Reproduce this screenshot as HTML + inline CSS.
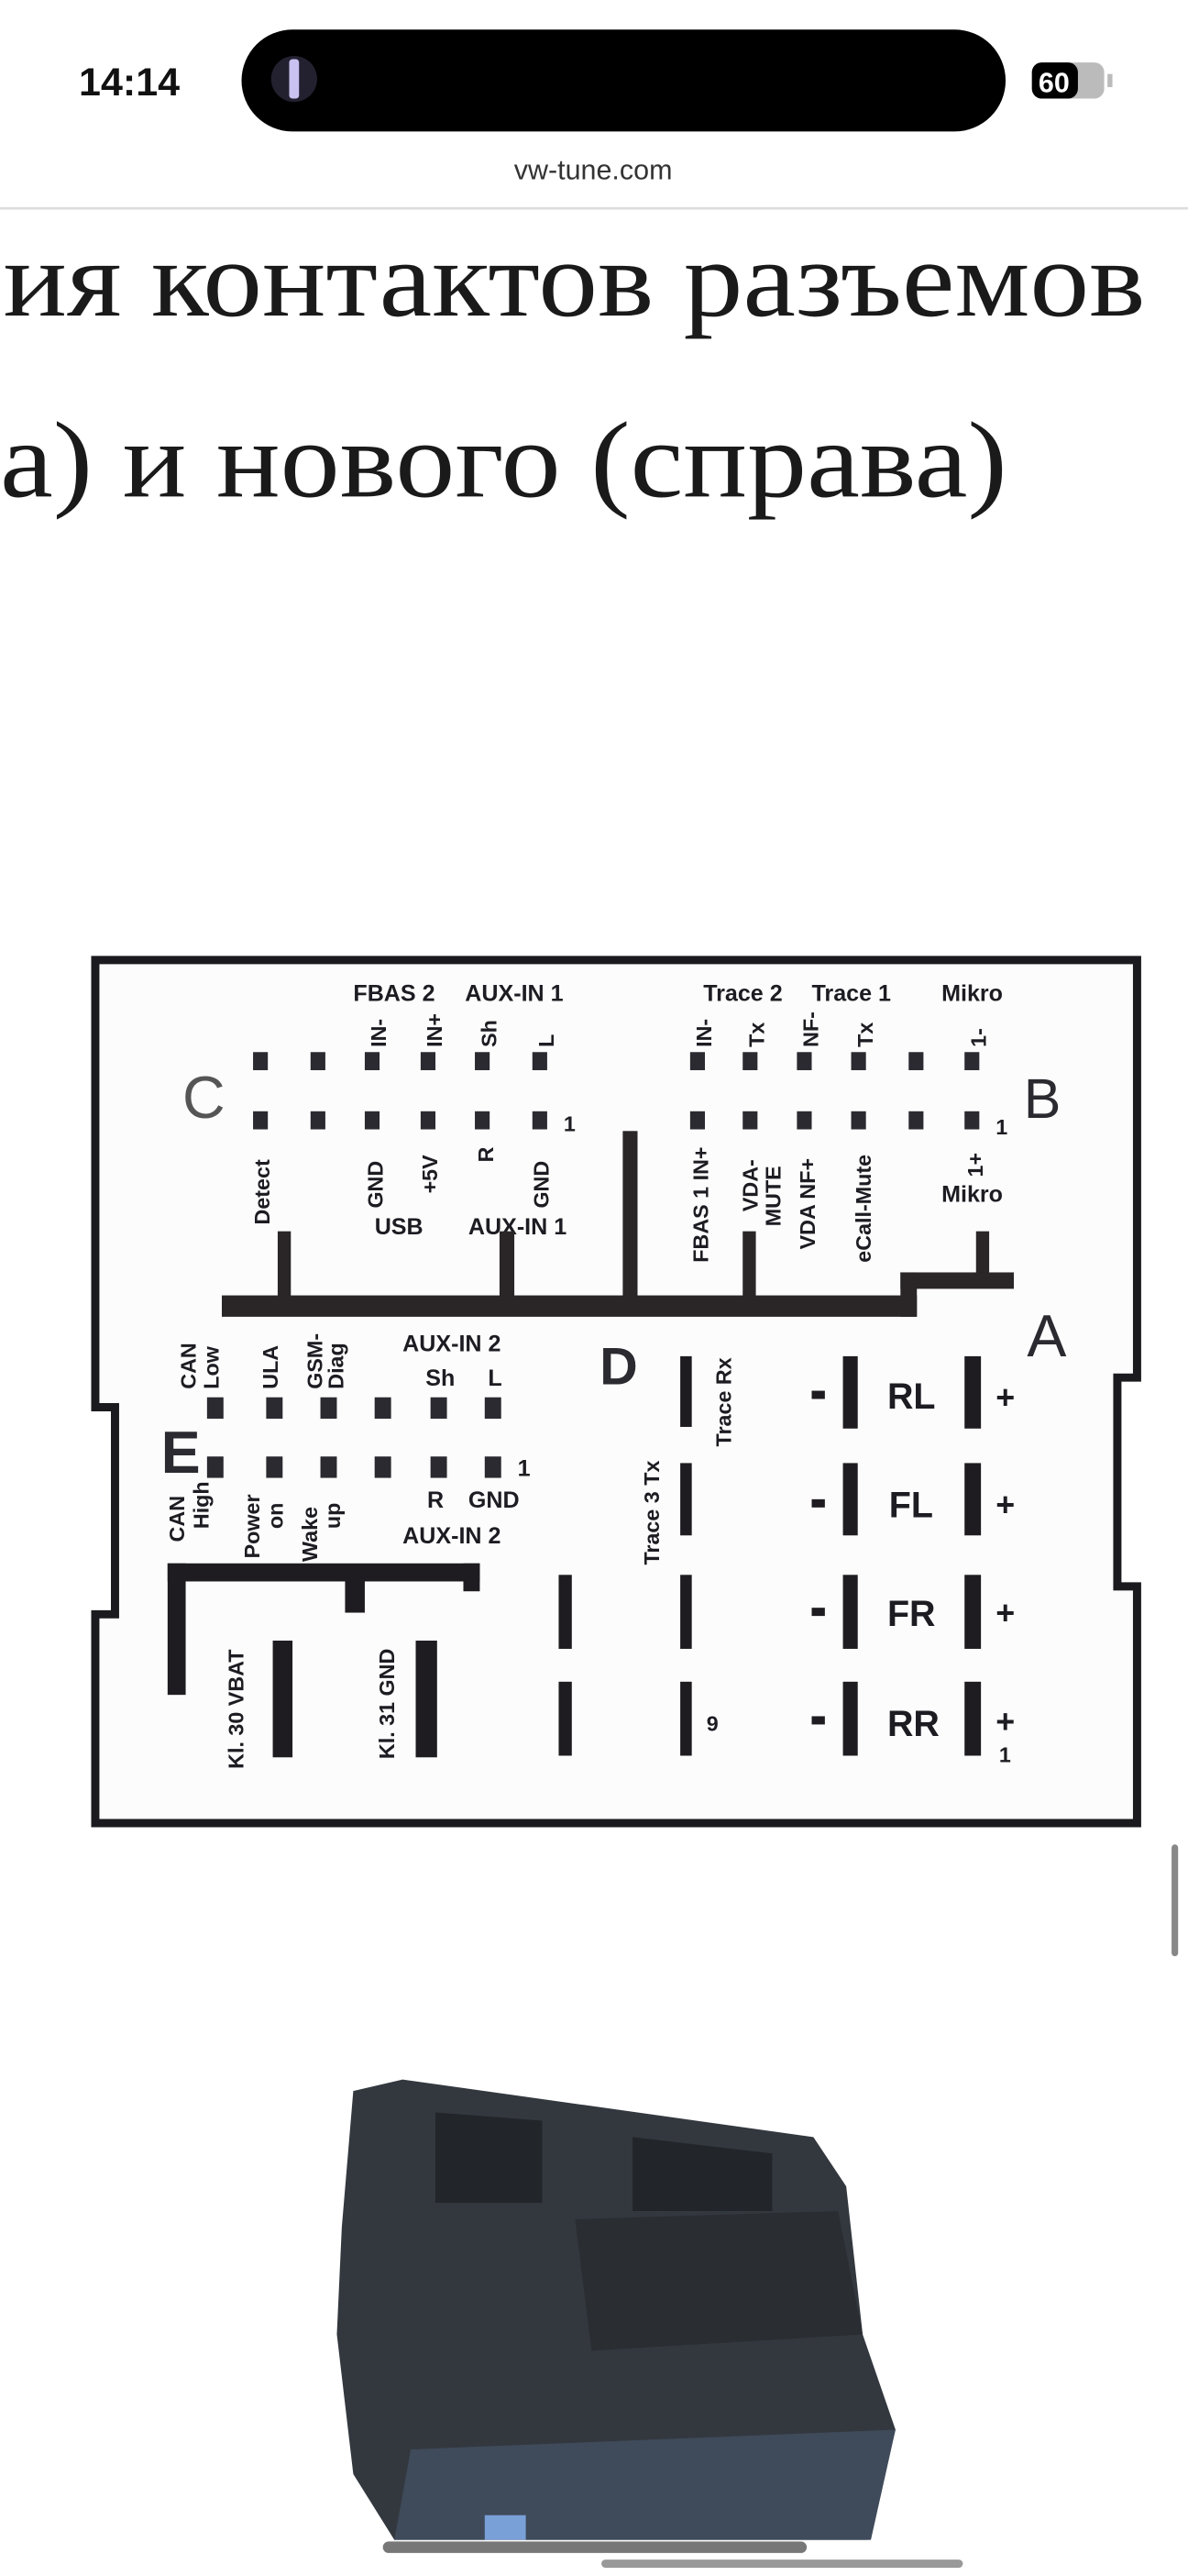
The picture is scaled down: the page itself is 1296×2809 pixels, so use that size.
<!DOCTYPE html>
<html><head><meta charset="utf-8"><style>
html,body{margin:0;padding:0;background:#fff;}
svg{display:block;}
.t{font-family:"Liberation Sans Narrow","Liberation Sans",sans-serif;font-weight:bold;fill:#1c1c22;}
</style></head><body>
<svg width="1296" height="2809" viewBox="0 0 723 1567" preserveAspectRatio="none" xmlns="http://www.w3.org/2000/svg">
<text x="48" y="58" font-family="Liberation Sans,sans-serif" font-size="24" font-weight="bold" fill="#111">14:14</text>
<rect x="147" y="18" width="465" height="62" rx="31" fill="#000"/>
<circle cx="179" cy="48" r="14" fill="#3a3550" opacity="0.6"/>
<rect x="176" y="36" width="6" height="24" rx="2" fill="#c9c2f0"/>
<rect x="628" y="38" width="44" height="22" rx="6" fill="#bbb"/>
<rect x="628" y="38" width="28" height="22" rx="6" fill="#000"/>
<text x="632" y="56" font-family="Liberation Sans,sans-serif" font-size="17" font-weight="bold" fill="#fff">60</text>
<rect x="674" y="45" width="3" height="8" fill="#bbb"/>
<text x="361" y="109" text-anchor="middle" font-family="Liberation Sans,sans-serif" font-size="17" fill="#333">vw-tune.com</text>
<rect x="0" y="126" width="723" height="1.5" fill="#ddd"/>
<text x="2" y="192" font-family="Liberation Serif,serif" font-size="66" fill="#1a1a1a" textLength="695" lengthAdjust="spacingAndGlyphs">ия контактов разъемов</text>
<text x="0" y="302" font-family="Liberation Serif,serif" font-size="66" fill="#1a1a1a" textLength="613" lengthAdjust="spacingAndGlyphs">а) и нового (справа)</text>

<path d="M58,584 L692,584 L692,838 L680,838 L680,965 L692,965 L692,1109 L58,1109 L58,982 L70,982 L70,856 L58,856 Z" fill="#fdfcfc" stroke="#1a1a1f" stroke-width="5"/>

<g fill="#2a2a30">
<rect x="154" y="640" width="9" height="11"/><rect x="189" y="640" width="9" height="11"/><rect x="222" y="640" width="9" height="11"/><rect x="256" y="640" width="9" height="11"/><rect x="289" y="640" width="9" height="11"/><rect x="324" y="640" width="9" height="11"/>
<rect x="154" y="676" width="9" height="11"/><rect x="189" y="676" width="9" height="11"/><rect x="222" y="676" width="9" height="11"/><rect x="256" y="676" width="9" height="11"/><rect x="289" y="676" width="9" height="11"/><rect x="324" y="676" width="9" height="11"/>
<rect x="420" y="640" width="9" height="11"/><rect x="452" y="640" width="9" height="11"/><rect x="485" y="640" width="9" height="11"/><rect x="518" y="640" width="9" height="11"/><rect x="553" y="640" width="9" height="11"/><rect x="587" y="640" width="9" height="11"/>
<rect x="420" y="676" width="9" height="11"/><rect x="452" y="676" width="9" height="11"/><rect x="485" y="676" width="9" height="11"/><rect x="518" y="676" width="9" height="11"/><rect x="553" y="676" width="9" height="11"/><rect x="587" y="676" width="9" height="11"/>
</g>
<g class="t" font-size="14">
<text x="215" y="609">FBAS 2</text><text x="283" y="609">AUX-IN 1</text>
<text x="428" y="609">Trace 2</text><text x="494" y="609">Trace 1</text><text x="573" y="609">Mikro</text>
<text x="228" y="751">USB</text><text x="285" y="751">AUX-IN 1</text>
<text x="573" y="731">Mikro</text>
</g>
<g class="t" font-size="13">
<text transform="translate(235,637) rotate(-90)">IN-</text>
<text transform="translate(269,637) rotate(-90)">IN+</text>
<text transform="translate(302,637) rotate(-90)">Sh</text>
<text transform="translate(337,637) rotate(-90)">L</text>
<text transform="translate(433,637) rotate(-90)">IN-</text>
<text transform="translate(465,637) rotate(-90)">Tx</text>
<text transform="translate(498,637) rotate(-90)">NF-</text>
<text transform="translate(531,637) rotate(-90)">Tx</text>
<text transform="translate(600,637) rotate(-90)">1-</text>
<text x="343" y="688">1</text><text x="606" y="690">1</text>
<text transform="translate(164,745) rotate(-90)">Detect</text>
<text transform="translate(233,735) rotate(-90)">GND</text>
<text transform="translate(266,726) rotate(-90)">+5V</text>
<text transform="translate(300,707) rotate(-90)">R</text>
<text transform="translate(334,735) rotate(-90)">GND</text>
<text transform="translate(431,768) rotate(-90)">FBAS 1 IN+</text>
<text transform="translate(461,737) rotate(-90)">VDA-</text>
<text transform="translate(475,746) rotate(-90)">MUTE</text>
<text transform="translate(496,760) rotate(-90)">VDA NF+</text>
<text transform="translate(530,768) rotate(-90)">eCall-Mute</text>
<text transform="translate(598,716) rotate(-90)">1+</text>
</g>
<text x="111" y="680" font-family="Liberation Sans,sans-serif" font-size="36" fill="#555">C</text>
<text x="623" y="680" font-family="Liberation Sans,sans-serif" font-size="34" fill="#2a2a30">B</text>
<text x="625" y="825" font-family="Liberation Sans,sans-serif" font-size="36" fill="#2a2a30">A</text>
<text x="365" y="842" font-family="Liberation Sans,sans-serif" font-size="32" font-weight="bold" fill="#2a2a30">D</text>
<text x="98" y="896" font-family="Liberation Sans,sans-serif" font-size="36" font-weight="bold" fill="#2a2a30">E</text>
<g fill="#2a2628">
<rect x="135" y="788" width="423" height="13"/>
<rect x="548" y="774" width="69" height="10"/>
<rect x="548" y="774" width="10" height="27"/>
<rect x="169" y="749" width="8" height="42"/>
<rect x="304" y="749" width="9" height="42"/>
<rect x="379" y="688" width="9" height="103"/>
<rect x="452" y="749" width="8" height="42"/>
<rect x="594" y="749" width="8" height="28"/>
</g>

<g fill="#2a2a30">
<rect x="126" y="850" width="10" height="13"/><rect x="162" y="850" width="10" height="13"/><rect x="195" y="850" width="10" height="13"/><rect x="228" y="850" width="10" height="13"/><rect x="262" y="850" width="10" height="13"/><rect x="295" y="850" width="10" height="13"/>
<rect x="126" y="886" width="10" height="13"/><rect x="162" y="886" width="10" height="13"/><rect x="195" y="886" width="10" height="13"/><rect x="228" y="886" width="10" height="13"/><rect x="262" y="886" width="10" height="13"/><rect x="295" y="886" width="10" height="13"/>
</g>
<g class="t" font-size="14">
<text x="245" y="822">AUX-IN 2</text>
<text x="259" y="843">Sh</text><text x="297" y="843">L</text>
<text x="315" y="898">1</text>
<text x="260" y="917">R</text><text x="285" y="917">GND</text>
<text x="245" y="939">AUX-IN 2</text>
</g>
<g class="t" font-size="13">
<text transform="translate(119,845) rotate(-90)">CAN</text>
<text transform="translate(133,845) rotate(-90)">Low</text>
<text transform="translate(169,845) rotate(-90)">ULA</text>
<text transform="translate(196,845) rotate(-90)">GSM-</text>
<text transform="translate(209,845) rotate(-90)">Diag</text>
<text transform="translate(112,938) rotate(-90)">CAN</text>
<text transform="translate(127,930) rotate(-90)">High</text>
<text transform="translate(158,948) rotate(-90)">Power</text>
<text transform="translate(172,930) rotate(-90)">on</text>
<text transform="translate(193,950) rotate(-90)">Wake</text>
<text transform="translate(207,930) rotate(-90)">up</text>
<text transform="translate(445,880) rotate(-90)">Trace Rx</text>
<text transform="translate(401,952) rotate(-90)">Trace 3 Tx</text>
<text transform="translate(148,1076) rotate(-90)">Kl. 30 VBAT</text>
<text transform="translate(240,1070) rotate(-90)">Kl. 31 GND</text>
<text x="430" y="1053">9</text>
<text x="608" y="1072">1</text>
</g>
<g fill="#1e1c20">
<rect x="414" y="825" width="7" height="43"/>
<rect x="414" y="890" width="7" height="44"/>
<rect x="414" y="958" width="7" height="45"/>
<rect x="414" y="1023" width="7" height="45"/>
<rect x="340" y="958" width="8" height="45"/>
<rect x="340" y="1023" width="8" height="45"/>
<rect x="102" y="951" width="190" height="11"/>
<rect x="282" y="951" width="10" height="17"/>
<rect x="102" y="951" width="11" height="80"/>
<rect x="210" y="955" width="12" height="26"/>
<rect x="166" y="998" width="12" height="71"/>
<rect x="253" y="998" width="13" height="71"/>
<rect x="513" y="825" width="9" height="44"/><rect x="587" y="825" width="10" height="44"/>
<rect x="513" y="890" width="9" height="44"/><rect x="587" y="890" width="10" height="44"/>
<rect x="513" y="958" width="9" height="45"/><rect x="587" y="958" width="10" height="45"/>
<rect x="513" y="1023" width="9" height="45"/><rect x="587" y="1023" width="10" height="45"/>
<rect x="494" y="846" width="8" height="5"/><rect x="494" y="912" width="8" height="5"/>
<rect x="494" y="978" width="8" height="5"/><rect x="494" y="1044" width="8" height="5"/>
</g>
<g class="t" font-size="22">
<text x="540" y="857">RL</text><text x="541" y="923">FL</text><text x="540" y="989">FR</text><text x="540" y="1056">RR</text>
</g>
<g class="t" font-size="20">
<text x="606" y="857">+</text><text x="606" y="922">+</text><text x="606" y="988">+</text><text x="606" y="1054">+</text>
</g>

<rect x="713" y="1122" width="4" height="68" rx="2" fill="#888"/>

<path d="M215,1272 L245,1265 L495,1300 L515,1330 L525,1420 L545,1478 L528,1545 L240,1545 L215,1505 L205,1420 L208,1355 Z" fill="#33383f"/>
<path d="M250,1490 L545,1478 L530,1545 L240,1545 Z" fill="#3f4a5a"/>
<path d="M350,1350 L510,1345 L525,1420 L360,1430 Z" fill="#2a2d32"/>
<path d="M265,1285 L330,1290 L330,1340 L265,1340 Z" fill="#22252a"/>
<path d="M385,1300 L470,1310 L470,1345 L385,1345 Z" fill="#22252a"/>
<rect x="295" y="1530" width="25" height="15" fill="#7aa0d8"/>
<rect x="233" y="1546" width="258" height="7" rx="3.5" fill="#777"/>
<rect x="366" y="1557" width="220" height="5" rx="2.5" fill="#999"/>
</svg>
</body></html>
